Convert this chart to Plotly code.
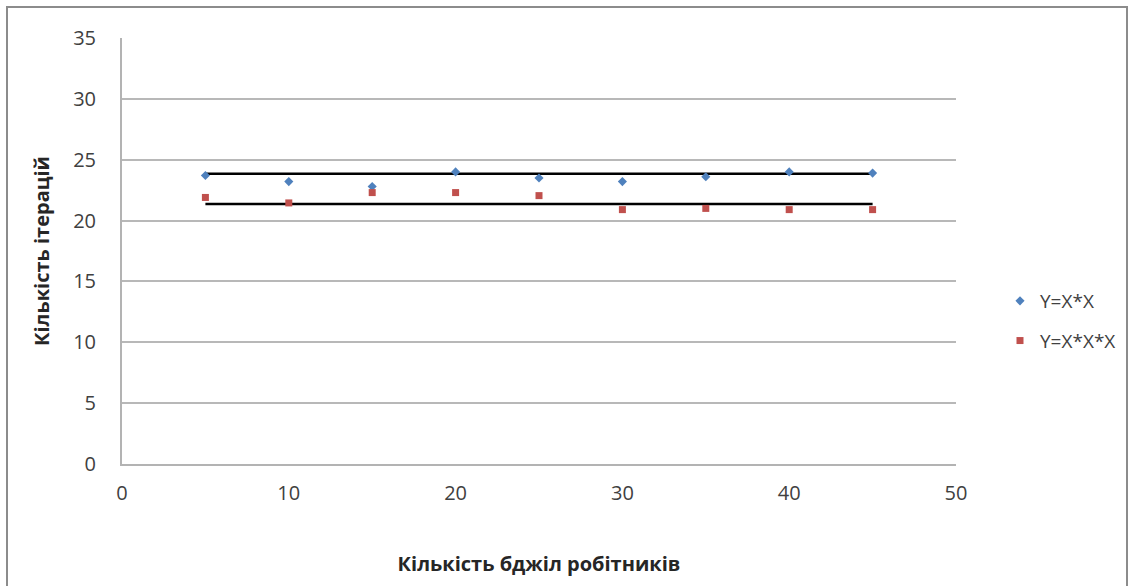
import plotly.graph_objects as go

# Number of worker bees and resulting iteration counts
bees = [5, 10, 15, 20, 25, 30, 35, 40, 45]
iter_square = [23.7, 23.2, 22.8, 24.0, 23.5, 23.2, 23.6, 24.0, 23.9]
iter_cube = [21.9, 21.45, 22.3, 22.3, 22.05, 20.9, 21.0, 20.9, 20.9]

# Horizontal reference levels drawn across the data range
level_x = [5, 45]
level_square = [23.85, 23.85]
level_cube = [21.37, 21.37]

W, H = 1133, 586
L, R, T, B = 122, 177, 38, 122
pw, ph = W - L - R, H - T - B

FONT = "Open Sans, Liberation Sans, sans-serif"

fig = go.Figure()

fig.add_trace(go.Scatter(x=level_x, y=level_square, mode="lines",
                         line=dict(color="black", width=2.5), showlegend=False, hoverinfo="skip"))
fig.add_trace(go.Scatter(x=level_x, y=level_cube, mode="lines",
                         line=dict(color="black", width=2.5), showlegend=False, hoverinfo="skip"))

fig.add_trace(go.Scatter(x=bees, y=iter_square, mode="markers", name="Y=X*X", legendgroup="a",
                         marker=dict(symbol="diamond", size=7, color="#4F81BD")))
fig.add_trace(go.Scatter(x=bees, y=iter_cube, mode="markers", name="Y=X*X*X", legendgroup="b",
                         marker=dict(symbol="square", size=7, color="#C0504D")))

tick_font = dict(family=FONT, size=20, color="#404040")
title_font = dict(family=FONT, size=20, color="#262626")

fig.update_layout(
    width=W, height=H,
    margin=dict(l=L, r=R, t=T, b=B),
    paper_bgcolor="white", plot_bgcolor="white",
    font=tick_font,
    xaxis=dict(range=[0, 50], dtick=10, showgrid=False, zeroline=False,
               showline=True, linecolor="#b3b3b3", linewidth=2,
               ticks="", tickfont=tick_font, ticklabelstandoff=10,
               title=dict(text="<b>Кількість бджіл робітників</b>", standoff=52, font=title_font)),
    yaxis=dict(range=[0, 35], dtick=5, showgrid=True, gridcolor="#b8b8b8", gridwidth=1.5,
               zeroline=False, showline=True, linecolor="#b3b3b3", linewidth=2,
               ticks="", tickfont=tick_font, ticklabelstandoff=20,
               title=dict(text="<b>Кількість ітерацій</b>", standoff=18, font=title_font)),
    legend=dict(x=(1000 - L) / pw, y=(464 - 282) / ph, xanchor="left", yanchor="top",
                bgcolor="rgba(0,0,0,0)", tracegroupgap=12, itemsizing="trace",
                font=dict(family=FONT, size=19, color="#404040")),
    showlegend=True,
)

# Outer chart frame
fig.add_shape(type="rect", xref="paper", yref="paper",
              x0=(7 - L) / pw, x1=(1127 - L) / pw,
              y0=(464 - 592) / ph, y1=(464 - 7) / ph,
              line=dict(color="#8c8c8c", width=2), layer="below")

fig.write_html("out.html")
